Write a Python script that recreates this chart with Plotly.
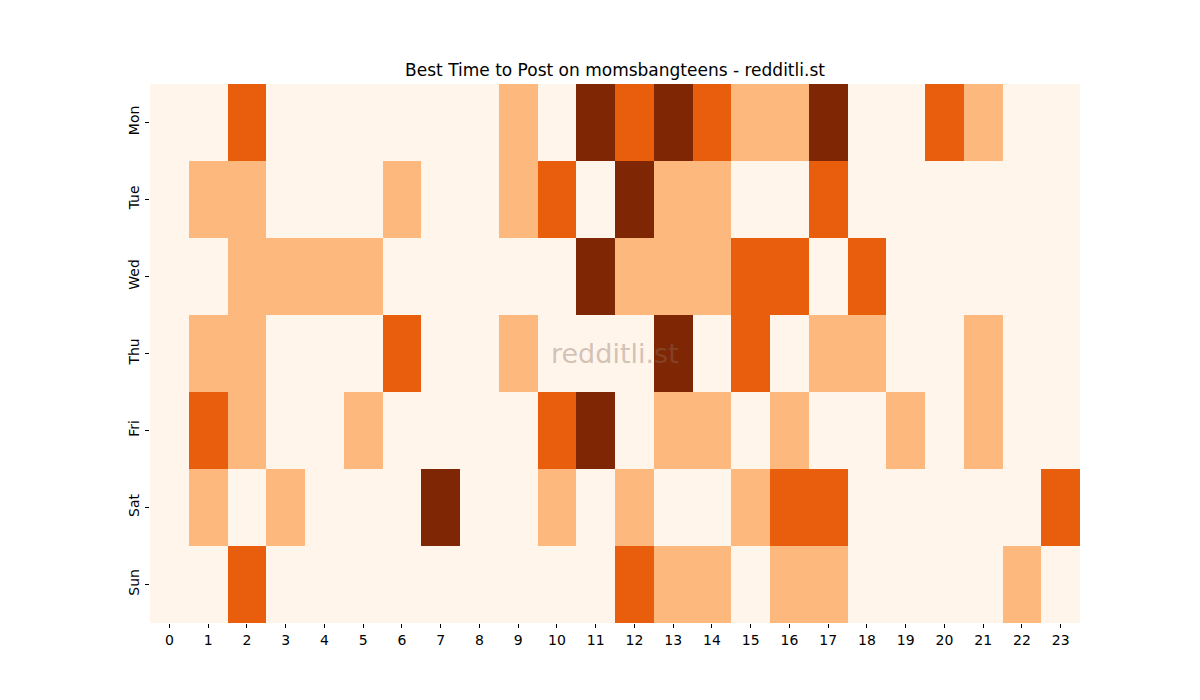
import plotly.graph_objects as go

# Posting activity level per day (rows) and hour (columns), 0..3
days = ["Mon", "Tue", "Wed", "Thu", "Fri", "Sat", "Sun"]
hours = list(range(24))

mon = [0, 0, 2, 0, 0, 0, 0, 0, 0, 1, 0, 3, 2, 3, 2, 1, 1, 3, 0, 0, 2, 1, 0, 0]
tue = [0, 1, 1, 0, 0, 0, 1, 0, 0, 1, 2, 0, 3, 1, 1, 0, 0, 2, 0, 0, 0, 0, 0, 0]
wed = [0, 0, 1, 1, 1, 1, 0, 0, 0, 0, 0, 3, 1, 1, 1, 2, 2, 0, 2, 0, 0, 0, 0, 0]
thu = [0, 1, 1, 0, 0, 0, 2, 0, 0, 1, 0, 0, 0, 3, 0, 2, 0, 1, 1, 0, 0, 1, 0, 0]
fri = [0, 2, 1, 0, 0, 1, 0, 0, 0, 0, 2, 3, 0, 1, 1, 0, 1, 0, 0, 1, 0, 1, 0, 0]
sat = [0, 1, 0, 1, 0, 0, 0, 3, 0, 0, 1, 0, 1, 0, 0, 1, 2, 2, 0, 0, 0, 0, 0, 2]
sun = [0, 0, 2, 0, 0, 0, 0, 0, 0, 0, 0, 0, 2, 1, 1, 0, 1, 1, 0, 0, 0, 0, 1, 0]

z = [mon, tue, wed, thu, fri, sat, sun]

colorscale = [
    [0.0, "#fff5eb"], [0.25, "#fff5eb"],
    [0.25, "#fdb97d"], [0.5, "#fdb97d"],
    [0.5, "#e95e0d"], [0.75, "#e95e0d"],
    [0.75, "#7f2704"], [1.0, "#7f2704"],
]

fig = go.Figure(go.Heatmap(
    z=z,
    x=hours,
    y=days,
    zmin=-0.5,
    zmax=3.5,
    colorscale=colorscale,
    showscale=False,
    xgap=0,
    ygap=0,
))

fig.update_layout(
    width=1200,
    height=700,
    margin=dict(l=142, r=128, t=76, b=85),
    paper_bgcolor="white",
    plot_bgcolor="white",
    font=dict(family="DejaVu Sans", size=14, color="black"),
    title=dict(
        text="Best Time to Post on momsbangteens - redditli.st",
        x=(615 - 8) / 1200, xanchor="center",
        y=1 - 62 / 700, yanchor="middle",
        font=dict(size=17, color="black"),
    ),
    annotations=[dict(
        text="redditli.st",
        x=0.5, y=0.5, xref="paper", yref="paper",
        showarrow=False,
        font=dict(size=27, color="rgba(140,110,95,0.4)"),
    )],
)

fig.update_xaxes(
    tickmode="array", tickvals=hours, ticktext=[str(h) for h in hours],
    ticks="outside", ticklen=4, tickcolor="black",
    showgrid=False, zeroline=False, showline=False,
)
fig.update_yaxes(
    autorange="reversed",
    ticks="outside", ticklen=4, tickcolor="black",
    tickangle=-90,
    showgrid=False, zeroline=False, showline=False,
)

fig.write_html("out.html")
